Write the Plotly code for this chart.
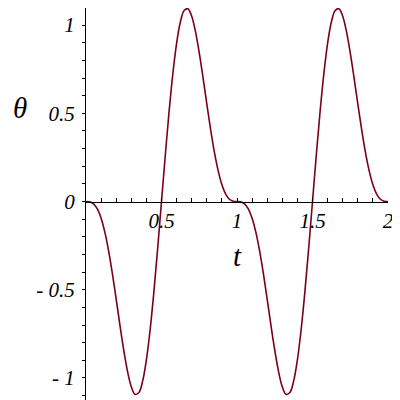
import plotly.graph_objects as go

# time samples (step 0.025) and theta values
t = [0.0, 0.025, 0.05, 0.075, 0.1, 0.125, 0.15, 0.175, 0.2, 0.225,
     0.25, 0.275, 0.3, 0.325, 0.35, 0.375, 0.4, 0.425, 0.45, 0.475,
     0.5, 0.525, 0.55, 0.575, 0.6, 0.625, 0.65, 0.675, 0.7, 0.725,
     0.75, 0.775, 0.8, 0.825, 0.85, 0.875, 0.9, 0.925, 0.95, 0.975,
     1.0, 1.025, 1.05, 1.075, 1.1, 1.125, 1.15, 1.175, 1.2, 1.225,
     1.25, 1.275, 1.3, 1.325, 1.35, 1.375, 1.4, 1.425, 1.45, 1.475,
     1.5, 1.525, 1.55, 1.575, 1.6, 1.625, 1.65, 1.675, 1.7, 1.725,
     1.75, 1.775, 1.8, 1.825, 1.85, 1.875, 1.9, 1.925, 1.95, 1.975, 2.0]

theta = [0.0, -0.002, -0.013, -0.042, -0.095, -0.175, -0.281, -0.410, -0.554, -0.703,
         -0.843, -0.963, -1.050, -1.093, -1.083, -1.018, -0.897, -0.724, -0.508, -0.262,
         0.0, 0.262, 0.508, 0.724, 0.897, 1.018, 1.083, 1.093, 1.050, 0.963,
         0.843, 0.703, 0.554, 0.410, 0.281, 0.175, 0.095, 0.042, 0.013, 0.002,
         0.0, -0.002, -0.013, -0.042, -0.095, -0.175, -0.281, -0.410, -0.554, -0.703,
         -0.843, -0.963, -1.050, -1.093, -1.083, -1.018, -0.897, -0.724, -0.508, -0.262,
         0.0, 0.262, 0.508, 0.724, 0.897, 1.018, 1.083, 1.093, 1.050, 0.963,
         0.843, 0.703, 0.554, 0.410, 0.281, 0.175, 0.095, 0.042, 0.013, 0.002, 0.0]

x_ticks = [0.5, 1, 1.5, 2]
x_labels = ["0.5", "1", "1.5", "2"]
y_ticks = [-1, -0.5, 0, 0.5, 1]
y_labels = ["- 1", "- 0.5", "0", "0.5", "1"]

y_min, y_max = -1.125, 1.097
x_zero = -y_min / (y_max - y_min)  # where t axis crosses theta = 0

serif = dict(family="Liberation Serif", size=21, color="black", style="italic")
big = dict(family="Liberation Serif", size=29, color="black", style="italic")

fig = go.Figure()
fig.add_trace(go.Scatter(x=t, y=theta, mode="lines", line_shape="spline",
                         line=dict(color="#7a0018", width=1.6), hoverinfo="skip"))

# page body adds 8px, so the figure is 392 square
fig.update_layout(
    width=392, height=392,
    margin=dict(l=78, r=12, t=0, b=0, autoexpand=False),
    paper_bgcolor="white", plot_bgcolor="white",
    showlegend=False,
    xaxis=dict(range=[0, 2], anchor="free", position=x_zero, automargin=False,
               showline=True, linecolor="black", linewidth=1,
               showgrid=False, zeroline=False,
               tickvals=x_ticks, ticktext=x_labels,
               ticks="inside", ticklen=4, tickcolor="black",
               minor=dict(dtick=0.1, ticks="inside", ticklen=4, tickcolor="black"),
               tickfont=serif),
    yaxis=dict(range=[y_min, y_max], automargin=False,
               showline=True, linecolor="black", linewidth=1,
               showgrid=False, zeroline=False,
               tickvals=y_ticks, ticktext=y_labels,
               ticks="outside", ticklen=3, tickcolor="black",
               ticklabelstandoff=3,
               minor=dict(dtick=0.1, ticks="outside", ticklen=3, tickcolor="black"),
               tickfont=serif),
    annotations=[
        dict(text="θ", xref="paper", yref="y", x=-0.218, y=0.53,
             xanchor="center", yanchor="middle", showarrow=False, font=big),
        dict(text="t", xref="x", yref="y", x=1.0, y=-0.31,
             xanchor="center", yanchor="middle", showarrow=False, font=big),
    ],
)

fig.write_html("out.html")
